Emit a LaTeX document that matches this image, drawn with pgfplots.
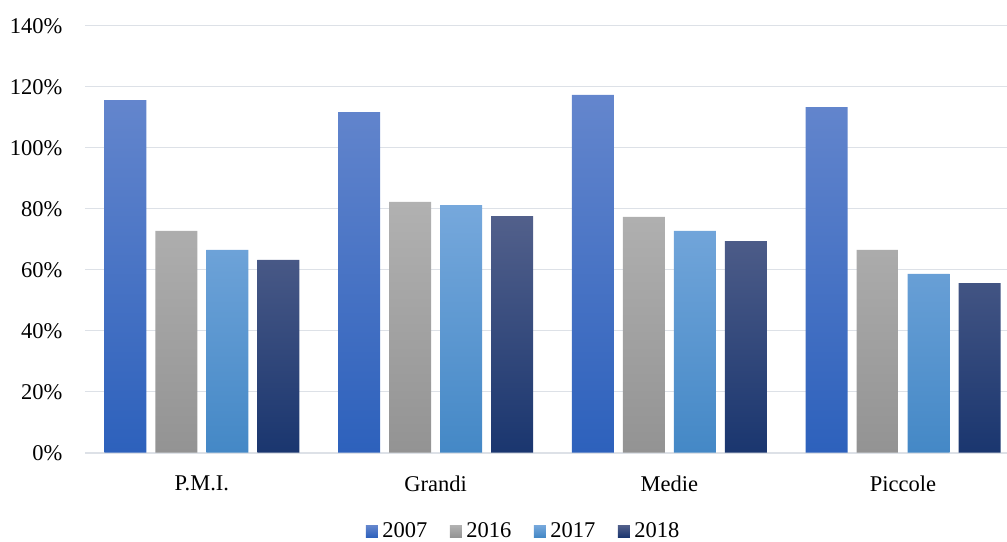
\documentclass[border=0pt]{standalone}
\usepackage{fontspec}
\setmainfont{Liberation Serif}
\usepackage{pgfplots}
\pgfplotsset{compat=1.18}
\definecolor{aT}{HTML}{6486CD}\definecolor{aB}{HTML}{2D61BC}
\definecolor{bT}{HTML}{B1B1B1}\definecolor{bB}{HTML}{939393}
\definecolor{cT}{HTML}{76A8DC}\definecolor{cB}{HTML}{4488C6}
\definecolor{dT}{HTML}{52608B}\definecolor{dB}{HTML}{1A366F}
\definecolor{gridc}{HTML}{DDE1E7}
\begin{document}
\fontsize{22.5}{26}\selectfont
\begin{tikzpicture}
\path[use as bounding box] (0pt,0pt) rectangle (1007pt,541pt);
\begin{axis}[
  at={(85pt,88.3pt)}, anchor=south west,
  scale only axis, width=922pt, height=427pt,
  ybar, bar width=42pt, ybar=9pt,
  ymin=0, ymax=140, ytick={0,20,...,140},
  xmin=-0.5, xmax=3.445,
  xtick={0,1,2,3}, xticklabels={P.M.I.,Grandi,Medie,Piccole},
  axis line style={draw=none},
  tick style={draw=none},
  ymajorgrids, major grid style={color=gridc, line width=1.6pt},
  /pgf/number format/assume math mode=true,
  yticklabel={\pgfmathprintnumber{\tick}\%},
  yticklabel style={xshift=-15pt},
  xticklabel style={yshift=-11pt},
  ticklabel style={font=\fontsize{22.5}{26}\selectfont},
  legend style={at={(0.477,-0.1840)}, anchor=center, draw=none, fill=none,
    font=\fontsize{22.5}{26}\selectfont, legend columns=-1,
    /tikz/every even column/.append style={column sep=18pt},
    nodes={inner xsep=4.5pt, inner ysep=0pt}},
  legend image code/.code={\path[#1,draw=none] (0pt,-6pt) rectangle (12pt,6pt);},
]
\addplot[draw=none, top color=aT, bottom color=aB] coordinates {(0,115.6) (1,111.7) (2,117.3) (3,113.3)};
\addplot[draw=none, top color=bT, bottom color=bB] coordinates {(0,72.7) (1,82.2) (2,77.3) (3,66.5)};
\addplot[draw=none, top color=cT, bottom color=cB] coordinates {(0,66.5) (1,81.2) (2,72.7) (3,58.6)};
\addplot[draw=none, top color=dT, bottom color=dB] coordinates {(0,63.2) (1,77.6) (2,69.4) (3,55.6)};
\legend{2007,2016,2017,2018}
\end{axis}
\end{tikzpicture}
\end{document}
